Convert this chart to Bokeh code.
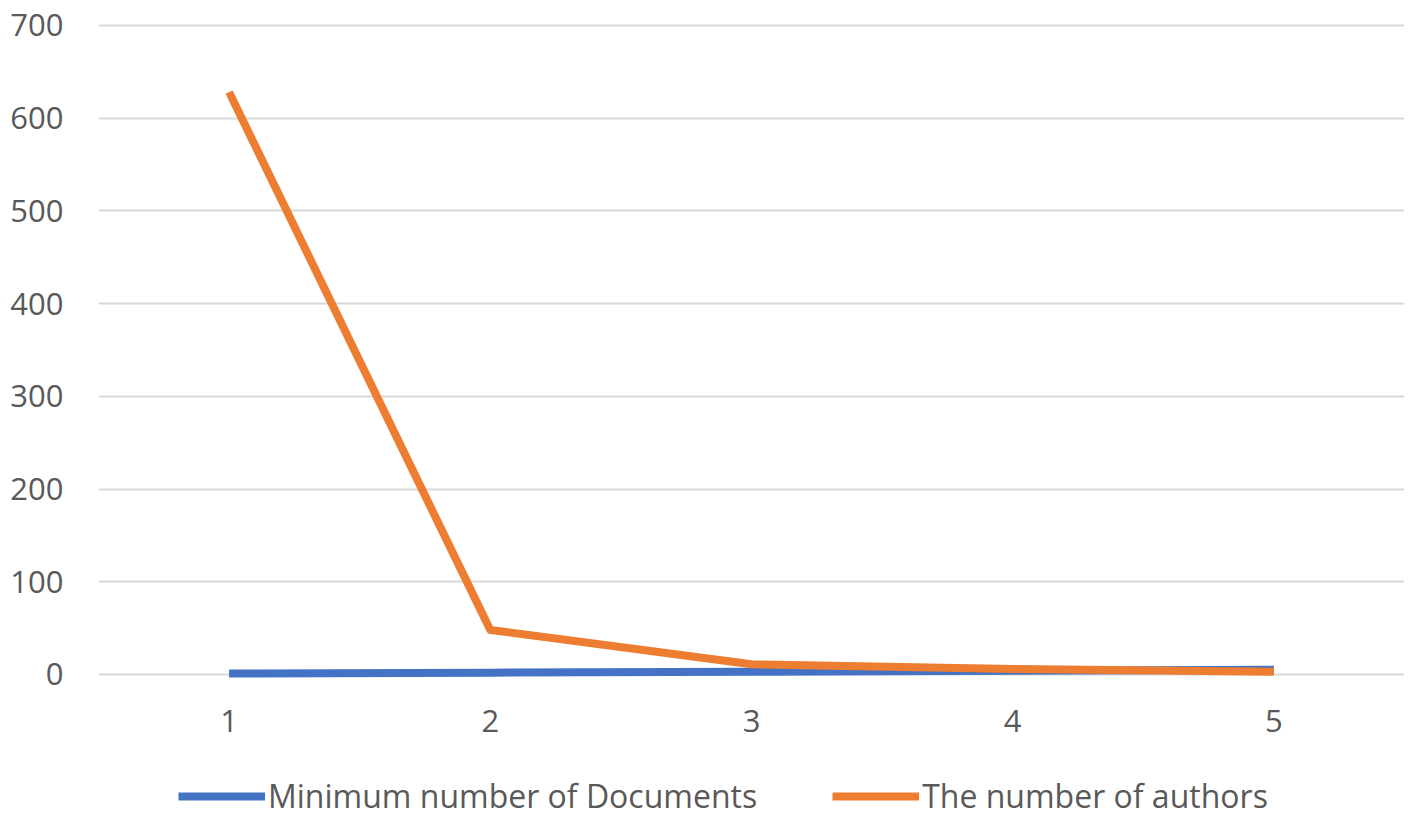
from bokeh.plotting import figure
from bokeh.models import FactorRange, Range1d, FixedTicker, Legend, LegendItem
from bokeh.embed import file_html
from bokeh.resources import INLINE

categories = ["1", "2", "3", "4", "5"]
min_documents = [1, 2, 3, 4, 5]
num_authors = [628, 48, 11, 6, 3]
y_ticks = [0, 100, 200, 300, 400, 500, 600, 700]

p = figure(x_range=FactorRange(*categories), y_range=Range1d(-155.3, 702),
           frame_width=1306, frame_height=795,
           output_backend="svg", toolbar_location=None,
           min_border_left=98, min_border_top=23, min_border_right=5, min_border_bottom=0)
p.outline_line_color = None
p.background_fill_color = "white"

r1 = p.line(categories, min_documents, line_color="#4472C4", line_width=8, line_join="round")
r2 = p.line(categories, num_authors, line_color="#ED7D31", line_width=8, line_join="round")

p.yaxis.ticker = FixedTicker(ticks=y_ticks)
p.ygrid.ticker = FixedTicker(ticks=y_ticks)
p.xgrid.grid_line_color = None
p.ygrid.grid_line_color = "#d9d9d9"
p.ygrid.grid_line_width = 2

for ax in (p.xaxis, p.yaxis):
    ax.axis_line_color = None
    ax.major_tick_line_color = None
    ax.minor_tick_line_color = None
    ax.major_label_text_font = "Open Sans"
    ax.major_label_text_font_size = "31px"
    ax.major_label_text_color = "#595959"
p.yaxis.major_label_standoff = 29
p.xaxis.fixed_location = 0
p.xaxis.major_label_standoff = 30

legend = Legend(items=[LegendItem(label="Minimum number of Documents", renderers=[r1]),
                       LegendItem(label="The number of authors", renderers=[r2])],
                orientation="horizontal", location=(80, 1),
                label_text_font="Open Sans", label_text_font_size="32px",
                label_text_color="#595959", glyph_width=87, glyph_height=20,
                spacing=75, border_line_color=None, background_fill_alpha=0,
                padding=0, margin=0, label_standoff=3)
p.add_layout(legend, "center")

open("out.html", "w").write(file_html(p, INLINE))
